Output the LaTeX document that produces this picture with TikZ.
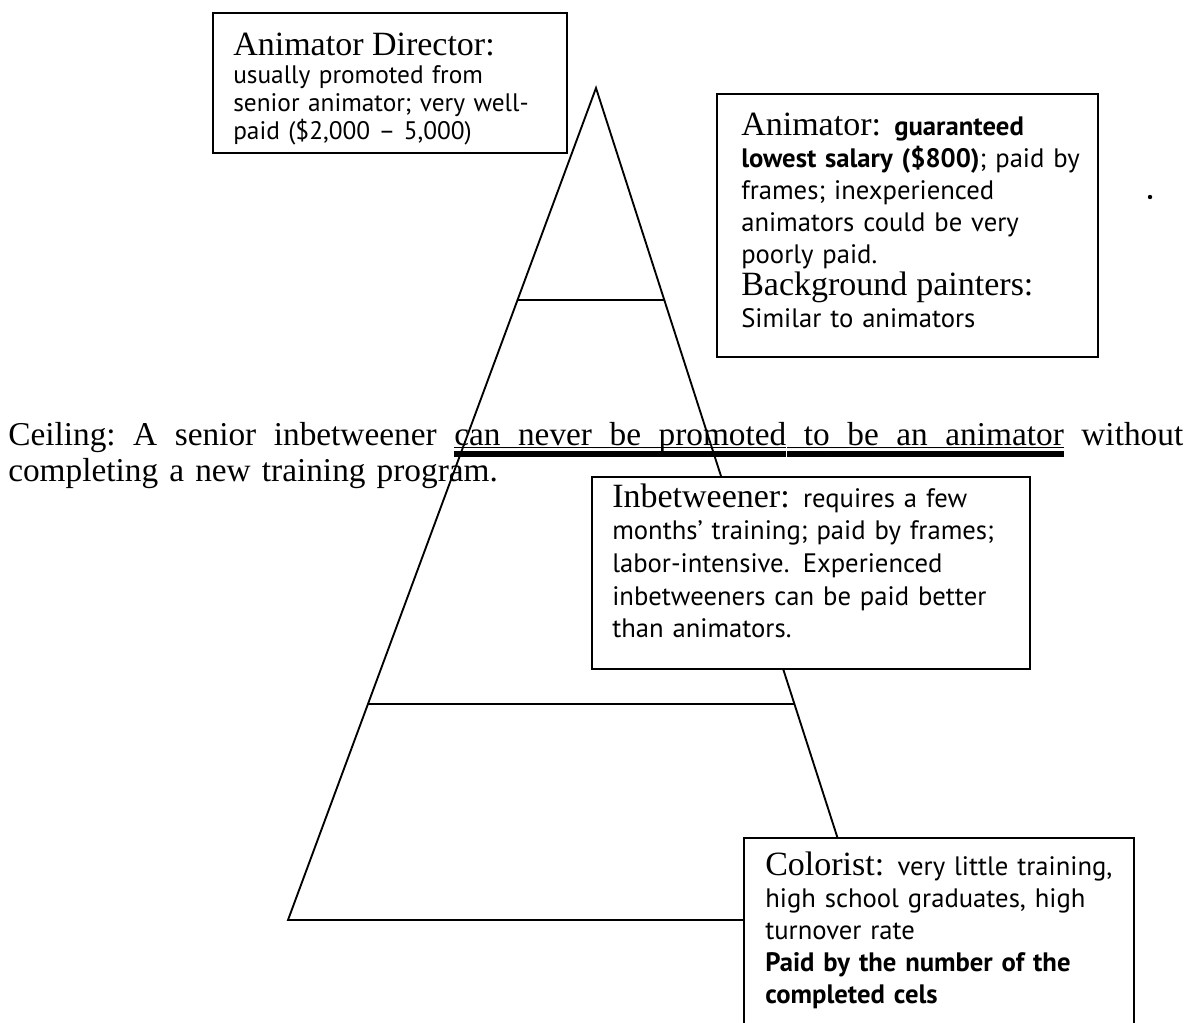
\documentclass[tikz,border=0pt]{standalone}
\usepackage{fontspec}
\setmainfont{Liberation Serif}
\newfontfamily\bodyfont{PT Sans}
\usetikzlibrary{calc}

% heading words set in the serif face at a given size
\newcommand\ttl[2]{{\rmfamily\fontsize{#1}{#1}\selectfont #2}}
% a thin underline with a heavy bar just below it, #1 wide
\newcommand\ulpiece[1]{\rlap{\rule[-2.4pt]{#1}{0.8pt}}\rule[-8.8pt]{#1}{4.6pt}}
% an underlined word
\newcommand\ulw[1]{\setbox0\hbox{#1}\rlap{\ulpiece{\wd0}}\box0}
% stretchable word spaces, plain and underlined
\newcommand\gap{\hskip 0.25em plus 1fil\relax}
\newcommand\ulgap{\leaders\hbox{\ulpiece{0.3pt}}\hskip 0.25em plus 1fil\relax}

\tikzset{
  pyrline/.style={line width=1.4pt, line cap=round},
  boxframe/.style={draw, line width=1.4pt, fill=white, inner sep=0pt},
  boxtext/.style={inner sep=0pt, anchor=base west, text width=420pt, align=left},
}

\begin{document}
\begin{tikzpicture}[x=0.75pt,y=-0.75pt]
\useasboundingbox (0,0) rectangle (1193,1022);
\clip (0,0) rectangle (1193,1022);

% pyramid outline and tier lines
\coordinate (apex) at (596,88);
\coordinate (bl) at (288,920);
\coordinate (br) at (864,920);
\coordinate (l1) at ($(apex)!0.2548!(bl)$);
\coordinate (r1) at ($(apex)!0.2548!(br)$);
\coordinate (l2) at ($(apex)!0.7404!(bl)$);
\coordinate (r2) at ($(apex)!0.7404!(br)$);
\draw[pyrline] (bl) -- (apex) -- (br) -- cycle;
\draw[pyrline] (l1) -- (r1);
\draw[pyrline] (l2) -- (r2);

% text boxes
\node[boxframe, minimum width=265.5pt, minimum height=105pt] (dirbox) at (390,83) {};
\node[boxframe, minimum width=285.75pt, minimum height=197.25pt] (anibox) at (907.5,225.5) {};
\node[boxframe, minimum width=328.5pt, minimum height=144pt] (inbbox) at (811,573) {};
\node[boxframe, minimum width=292.5pt, minimum height=151.5pt] (colbox) at (939,939) {};

\node[boxtext, font=\bodyfont\fontsize{19pt}{21pt}\selectfont] (dirtext) at (233,55)
  {\ttl{25.5pt}{Animator Director:}\\
   usually promoted from\\
   senior animator; very well-\\
   paid (\$2,000 – 5,000)};

\node[boxtext, font=\bodyfont\fontsize{20pt}{24pt}\selectfont] (anitext) at (741,135)
  {\ttl{25.5pt}{Animator:} \textbf{guaranteed}\\
   \textbf{lowest salary (\$800)}; paid by\\
   frames; inexperienced\\
   animators could be very\\
   poorly paid.\\
   \ttl{25.5pt}{Background painters:}\\
   Similar to animators};

\node[boxtext, font=\bodyfont\fontsize{20pt}{24.5pt}\selectfont] (inbtext) at (612,507)
  {\ttl{25.5pt}{Inbetweener:} requires a few\\
   months’ training; paid by frames;\\
   labor-intensive. Experienced\\
   inbetweeners can be paid better\\
   than animators.};

\node[boxtext, font=\bodyfont\fontsize{20pt}{24pt}\selectfont] (coltext) at (765,875)
  {\ttl{25.5pt}{Colorist:} very little training,\\
   high school graduates, high\\
   turnover rate\\
   \textbf{Paid by the number of the}\\
   \textbf{completed cels}};

\fill (1150,197) circle (2.2);

% the ceiling remark, written across the pyramid
\node[inner sep=0pt, anchor=base west, text width=881.25pt, align=left,
      font=\fontsize{25pt}{23pt}\selectfont] (ceiling) at (8,445)
  {\hbox to \linewidth{Ceiling:\gap A\gap senior\gap inbetweener\gap
     \ulw{can}\ulgap\ulw{never}\ulgap\ulw{be}\ulgap\ulw{promoted}\ulgap
     \ulw{to}\ulgap\ulw{be}\ulgap\ulw{an}\ulgap\ulw{animator}\gap without}\\
   completing a new training program.};
\end{tikzpicture}
\end{document}
